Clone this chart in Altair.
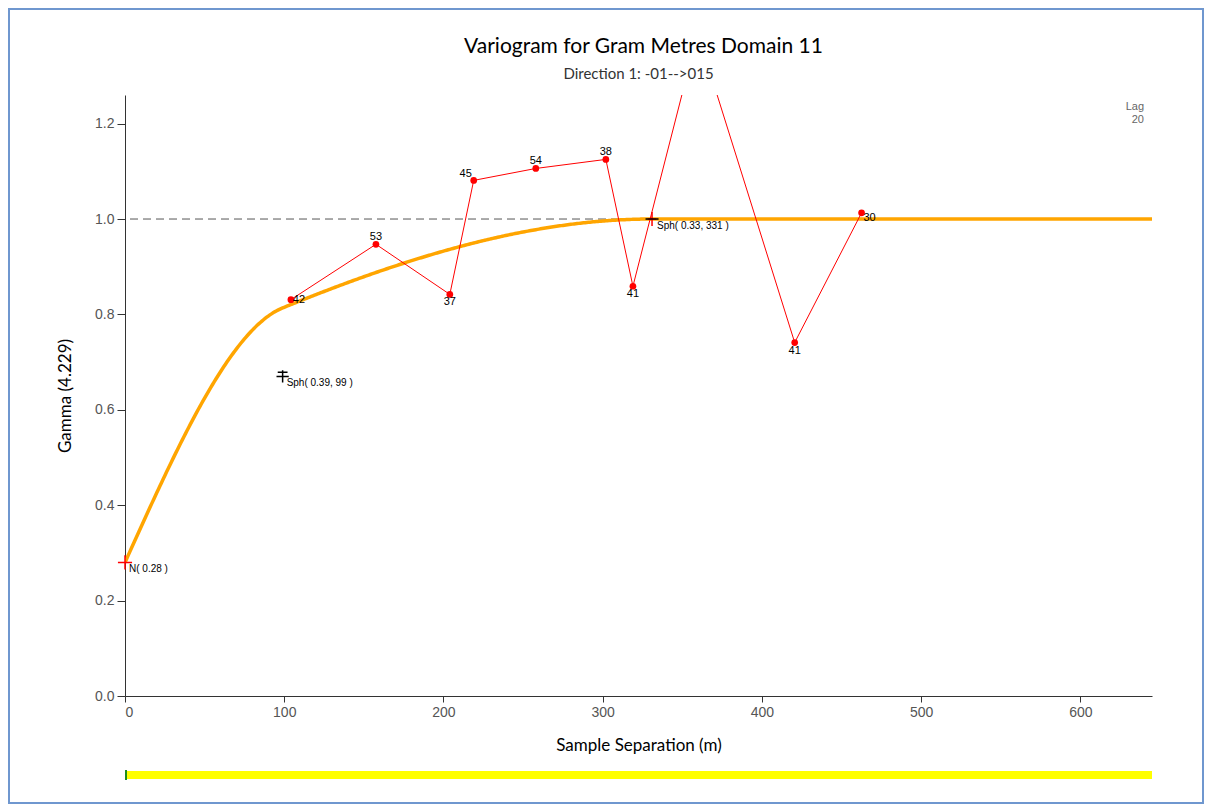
import altair as alt
import pandas as pd
import numpy as np

# ---------------- data ----------------
lag_x = [104.2, 157.6, 204.0, 219.0, 258.0, 302.0, 319.0, 359.7, 420.6, 462.6]
gamma = [0.831, 0.947, 0.842, 1.081, 1.106, 1.125, 0.859, 1.390, 0.741, 1.013]
pairs = ["42", "53", "37", "45", "54", "38", "41", "", "41", "30"]

nugget = 0.28
sph_sill = [0.39, 0.33]
sph_range = [99, 331]
total_sill = 1.0

title = "Variogram for Gram Metres Domain 11"
subtitle = "Direction 1: -01-->015"
x_title = "Sample Separation (m)"
y_title = "Gamma (4.229)"
lag_text = ["Lag", "20"]
x_ticks = [0, 100, 200, 300, 400, 500, 600]
y_ticks = [0.0, 0.2, 0.4, 0.6, 0.8, 1.0, 1.2]
x_max = 645
y_max = 1.26

# label placement (style, kept apart from the values)
label_place = ["right", "above", "below", "aboveleft", "above", "above",
               "below", "above", "below", "rightbelow"]

# ---------------- model curve from the annotated parameters ----------------
h = np.arange(0, x_max + 1, 1.0)
g = np.full_like(h, nugget)
for c, a in zip(sph_sill, sph_range):
    r = np.minimum(h / a, 1.0)
    g = g + c * (1.5 * r - 0.5 * r ** 3)
model = pd.DataFrame({"x": h, "y": g})

exp = pd.DataFrame({"x": lag_x, "y": gamma, "n": pairs, "place": label_place,
                    "order": list(range(len(lag_x)))})

W, H = 1027, 601
PL, PT, PR, PB = 117, 87, 52, 108

xs = alt.Scale(domain=[0, x_max], nice=False, zero=False)
ys = alt.Scale(domain=[0, y_max], nice=False, zero=False)

X = alt.X("x:Q", scale=xs, title=x_title,
          axis=alt.Axis(values=x_ticks, format="d", grid=False, tickSize=6,
                        labelPadding=3, titlePadding=18))
Y = alt.Y("y:Q", scale=ys, title=y_title,
          axis=alt.Axis(values=y_ticks, format=".1f", grid=False, tickSize=8,
                        labelPadding=3, titlePadding=20))

sill_rule = alt.Chart(pd.DataFrame({"y": [total_sill]})).mark_rule(
    color="#555555", strokeDash=[8, 5], strokeWidth=1
).encode(y=Y)

model_line = alt.Chart(model).mark_line(
    color="#FFA500", strokeWidth=3.5, clip=True
).encode(x=X, y=Y)

exp_line = alt.Chart(exp).mark_line(
    color="#FF0000", strokeWidth=1, clip=True
).encode(x=X, y=Y, order="order:Q")

exp_pts = alt.Chart(exp).mark_circle(
    color="#FF0000", size=45, opacity=1, clip=True
).encode(x=X, y=Y)

offsets = {
    "right": dict(dx=8, dy=0, align="center", baseline="middle"),
    "above": dict(dx=0, dy=-7, align="center", baseline="middle"),
    "below": dict(dx=0, dy=8, align="center", baseline="middle"),
    "aboveleft": dict(dx=-8, dy=-6, align="center", baseline="middle"),
    "rightbelow": dict(dx=8, dy=5, align="center", baseline="middle"),
}
label_layers = []
for key, o in offsets.items():
    label_layers.append(
        alt.Chart(exp).transform_filter(alt.datum.place == key).mark_text(
            font="Liberation Sans", fontSize=11, color="#000000", clip=True, **o
        ).encode(x=X, y=Y, text="n:N")
    )

# nugget marker
nug_df = pd.DataFrame({"x": [0.0], "y": [nugget],
                       "t": [f"N( {nugget:.2f} )"]})
nug_mark = alt.Chart(nug_df).mark_point(
    shape="M-1,0L1,0M0,-1L0,1", size=200, color="#FF0000", strokeWidth=1.5,
    filled=False, opacity=1
).encode(x=X, y=Y)
nug_text = alt.Chart(nug_df).mark_text(
    font="Liberation Sans", fontSize=10, align="left", baseline="middle",
    dx=4, dy=7, color="#000000"
).encode(x=X, y=Y, text="t:N")

# structure markers
s1_df = pd.DataFrame({"x": [sph_range[0]], "y": [nugget + sph_sill[0]],
                      "t": [f"Sph( {sph_sill[0]:.2f}, {sph_range[0]} )"]})
s1_mark = alt.Chart(s1_df).mark_point(
    shape="M-1,0L1,0M0,-1L0,1M-0.8,-0.7L0.8,-0.7", size=150, color="#000000",
    strokeWidth=1.5, filled=False, opacity=1
).encode(x=X, y=Y)
s1_text = alt.Chart(s1_df).mark_text(
    font="Liberation Sans", fontSize=10, align="left", baseline="middle",
    dx=4, dy=7, color="#000000"
).encode(x=X, y=Y, text="t:N")

s2_df = pd.DataFrame({"x": [sph_range[1]], "y": [nugget + sph_sill[0] + sph_sill[1]],
                      "t": [f"Sph( {sph_sill[1]:.2f}, {sph_range[1]} )"]})
s2_red = alt.Chart(s2_df).mark_point(
    shape="M0,-1L0,1M-0.6,0L0.6,0", size=200, color="#FF0000",
    strokeWidth=1.5, filled=False, opacity=1
).encode(x=X, y=Y)
s2_blk = alt.Chart(s2_df).mark_point(
    shape="M-1,0L1,0", size=170, color="#000000",
    strokeWidth=1.5, filled=False, opacity=1
).encode(x=X, y=Y)
s2_text = alt.Chart(s2_df).mark_text(
    font="Liberation Sans", fontSize=10, align="left", baseline="middle",
    dx=5, dy=7, color="#000000"
).encode(x=X, y=Y, text="t:N")

# "Lag 20" annotation (two lines of one text)
lag = alt.Chart(pd.DataFrame({"t": [lag_text]})).mark_text(
    font="Liberation Sans", fontSize=11, color="#666666", align="right",
    baseline="middle", lineHeight=13
).encode(x=alt.value(W - 8), y=alt.value(12), text="t")

# chart title and subtitle
title_mark = alt.Chart(pd.DataFrame({"t": [title]})).mark_text(
    font="Lato", fontSize=21, color="#000000", align="center", baseline="middle"
).encode(x=alt.value(W / 2 + 5), y=alt.value(-48), text="t:N")
subtitle_mark = alt.Chart(pd.DataFrame({"t": [subtitle]})).mark_text(
    font="Lato", fontSize=15, color="#333333", align="center", baseline="middle"
).encode(x=alt.value(W / 2), y=alt.value(-21), text="t:N")

# lag slider bar under the chart
slider_df = pd.DataFrame({"x": [0.0], "x2": [float(x_max)]})
slider = alt.Chart(slider_df).mark_rule(color="#FFFF00", strokeWidth=8, strokeCap="butt").encode(
    x=alt.X("x:Q", scale=xs), x2="x2:Q", y=alt.value(H + 79)
)
slider_knob = alt.Chart(slider_df).mark_rule(color="#1E8C1E", strokeWidth=10, strokeCap="butt").encode(
    x=alt.X("x:Q", scale=xs), x2=alt.value(2), y=alt.value(H + 79)
)

# outer frame
frame = alt.Chart(pd.DataFrame({"a": [0]})).mark_rect(
    filled=False, stroke="#6F97CF", strokeWidth=2
).encode(x=alt.value(-PL + 1), x2=alt.value(W + PR - 1),
         y=alt.value(-PT + 1), y2=alt.value(H + PB - 1))

chart = alt.layer(
    sill_rule, model_line, exp_line, exp_pts, *label_layers,
    nug_mark, nug_text, s1_mark, s1_text, s2_red, s2_blk, s2_text,
    lag, title_mark, subtitle_mark, slider, slider_knob, frame
).properties(
    width=W, height=H,
    autosize=alt.AutoSizeParams(type="none"),
    padding={"left": PL, "top": PT, "right": PR, "bottom": PB},
    background="#FFFFFF",
).configure_view(stroke=None).configure_axis(
    labelFont="Liberation Sans", labelFontSize=14, labelColor="#555555",
    domainColor="#333333", tickColor="#333333",
    titleFont="Lato", titleFontSize=17, titleFontWeight="normal",
    titleColor="#000000"
)

chart.save("out.html", embed_options={"renderer": "svg", "actions": False})
